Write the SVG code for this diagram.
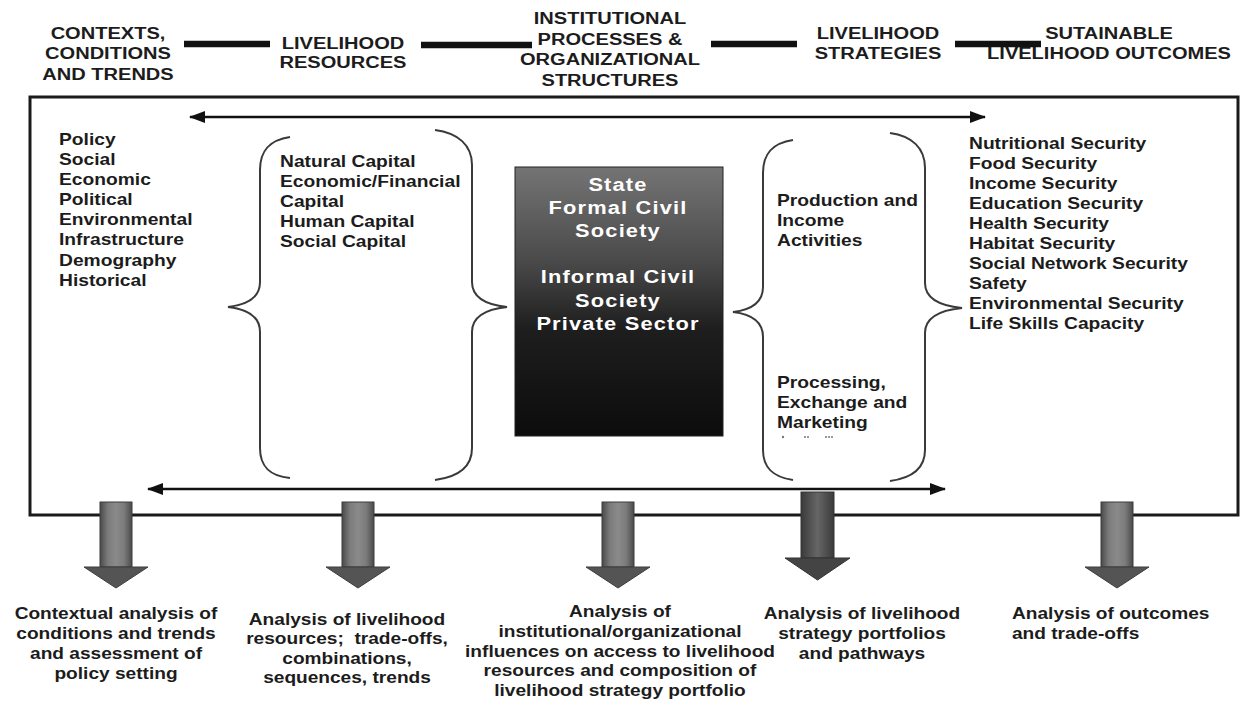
<svg xmlns="http://www.w3.org/2000/svg" width="1250" height="702" viewBox="0 0 1250 702">
<defs>
<style>
.t{font-family:"Liberation Sans",Arial,Helvetica,sans-serif;font-weight:bold;fill:#1c1c1c}
.h{font-size:17px;text-anchor:middle}
.l{font-size:16.3px}
.b{font-size:16.2px;text-anchor:middle}
.bl{font-size:16.2px}
.w{font-size:18.5px;fill:#ffffff;text-anchor:middle;letter-spacing:1px}
.frame{fill:none;stroke:#1a1a1a;stroke-width:3}
.brace{fill:none;stroke:#3a3a3a;stroke-width:2}
.bar{stroke:#111;stroke-width:6.5}
.dbl{stroke:#111;stroke-width:2.5;marker-start:url(#ah);marker-end:url(#ah)}
.shaft{fill:url(#gShaft);stroke:#3c3c3c;stroke-width:1}
.head{fill:#545454;stroke:#3c3c3c;stroke-width:1}
.dot{fill:#777}
</style>
<marker id="ah" viewBox="0 0 16 12" refX="15" refY="6" markerWidth="16" markerHeight="12" orient="auto-start-reverse" markerUnits="userSpaceOnUse">
<path d="M0,0 L16,6 L0,12 z" fill="#111"/>
</marker>
<linearGradient id="gDark" x1="0" y1="0" x2="0" y2="1">
<stop offset="0" stop-color="#747474"/>
<stop offset="0.35" stop-color="#4a4a4a"/>
<stop offset="0.6" stop-color="#1e1e1e"/>
<stop offset="1" stop-color="#0c0c0c"/>
</linearGradient>
<linearGradient id="gShaft" x1="0" y1="0" x2="1" y2="0">
<stop offset="0" stop-color="#4a4a4a"/>
<stop offset="0.25" stop-color="#7c7c7c"/>
<stop offset="0.5" stop-color="#8a8a8a"/>
<stop offset="0.75" stop-color="#7c7c7c"/>
<stop offset="1" stop-color="#4a4a4a"/>
</linearGradient>
<linearGradient id="gShaftDark" x1="0" y1="0" x2="1" y2="0">
<stop offset="0" stop-color="#3a3a3a"/>
<stop offset="0.5" stop-color="#666"/>
<stop offset="1" stop-color="#3a3a3a"/>
</linearGradient>
</defs>
<rect width="1250" height="702" fill="#ffffff"/>

<!-- main frame -->
<rect id="frame" class="frame" x="30" y="97" width="1208" height="418"/>

<!-- header nodes -->
<g id="hdr-contexts"><text class="t h" transform="translate(108,39) scale(1.18,1)"><tspan x="0">CONTEXTS,</tspan><tspan x="0" dy="20.5">CONDITIONS</tspan><tspan x="0" dy="20.5">AND TRENDS</tspan></text></g>
<g id="hdr-resources"><text class="t h" transform="translate(343,49) scale(1.18,1)"><tspan x="0">LIVELIHOOD</tspan><tspan x="0" dy="19.5">RESOURCES</tspan></text></g>
<g id="hdr-institutional"><text class="t h" transform="translate(610,24) scale(1.18,1)"><tspan x="0">INSTITUTIONAL</tspan><tspan x="0" dy="20.7">PROCESSES &amp;</tspan><tspan x="0" dy="20.7">ORGANIZATIONAL</tspan><tspan x="0" dy="20.7">STRUCTURES</tspan></text></g>
<g id="hdr-strategies"><text class="t h" transform="translate(878,39) scale(1.18,1)"><tspan x="0">LIVELIHOOD</tspan><tspan x="0" dy="20">STRATEGIES</tspan></text></g>
<g id="hdr-outcomes"><text class="t h" transform="translate(1109,39) scale(1.18,1)"><tspan x="0">SUTAINABLE</tspan><tspan x="0" dy="20">LIVELIHOOD OUTCOMES</tspan></text></g>

<!-- context list -->
<g id="contexts-list"><text class="t l" transform="translate(59,145) scale(1.18,1)"><tspan x="0">Policy</tspan><tspan x="0" dy="20.1">Social</tspan><tspan x="0" dy="20.1">Economic</tspan><tspan x="0" dy="20.1">Political</tspan><tspan x="0" dy="20.1">Environmental</tspan><tspan x="0" dy="20.1">Infrastructure</tspan><tspan x="0" dy="20.1">Demography</tspan><tspan x="0" dy="20.1">Historical</tspan></text></g>

<!-- resources bracket -->
<g id="resources-list">
<path class="brace" d="M290,137 C270,140 260,150 260,170 L260,282 C260,298 246,305 228,307 C246,309 260,316 260,332 L260,448 C260,467 270,476 290,478"/>
<path class="brace" d="M435,130 C458,133 472,145 472,165 L472,282 C472,298 488,305 507,307 C488,309 472,316 472,332 L472,448 C472,467 458,477 435,480"/>
<text class="t l" transform="translate(280,167) scale(1.18,1)"><tspan x="0">Natural Capital</tspan><tspan x="0" dy="20">Economic/Financial</tspan><tspan x="0" dy="20">Capital</tspan><tspan x="0" dy="20">Human Capital</tspan><tspan x="0" dy="20">Social Capital</tspan></text>
</g>

<!-- institutions box -->
<g id="institutions">
<rect x="515" y="167" width="208" height="269" fill="url(#gDark)" stroke="#222" stroke-width="1"/>
<text class="t w" transform="translate(618,191) scale(1.18,1)"><tspan x="0">State</tspan><tspan x="0" dy="23.5">Formal Civil</tspan><tspan x="0" dy="23">Society</tspan><tspan x="0" dy="46">Informal Civil</tspan><tspan x="0" dy="23.5">Society</tspan><tspan x="0" dy="23">Private Sector</tspan></text>
</g>

<!-- strategies bracket -->
<g id="strategies-list">
<path class="brace" d="M793,140 C773,143 763,153 763,173 L763,287 C763,303 750,310 733,312 C750,314 763,321 763,337 L763,450 C763,468 773,477 793,480"/>
<path class="brace" d="M890,133 C912,136 925,148 925,168 L925,283 C925,299 942,306 962,308 C942,310 925,317 925,333 L925,450 C925,468 912,478 890,481"/>
<text class="t l" transform="translate(777,206) scale(1.18,1)"><tspan x="0">Production and</tspan><tspan x="0" dy="20">Income</tspan><tspan x="0" dy="20">Activities</tspan></text>
<text class="t l" transform="translate(777,388) scale(1.18,1)"><tspan x="0">Processing,</tspan><tspan x="0" dy="20">Exchange and</tspan><tspan x="0" dy="20">Marketing</tspan></text>
<circle class="dot" cx="783" cy="437" r="1.2"/>
<circle class="dot" cx="805" cy="437" r="1"/><circle class="dot" cx="808" cy="437" r="1"/>
<circle class="dot" cx="826" cy="437" r="1"/><circle class="dot" cx="829" cy="437" r="1"/><circle class="dot" cx="832" cy="437" r="1"/>
</g>

<!-- outcomes list -->
<g id="outcomes-list"><text class="t l" transform="translate(969,149) scale(1.18,1)"><tspan x="0">Nutritional Security</tspan><tspan x="0" dy="20">Food Security</tspan><tspan x="0" dy="20">Income Security</tspan><tspan x="0" dy="20">Education Security</tspan><tspan x="0" dy="20">Health Security</tspan><tspan x="0" dy="20">Habitat Security</tspan><tspan x="0" dy="20">Social Network Security</tspan><tspan x="0" dy="20">Safety</tspan><tspan x="0" dy="20">Environmental Security</tspan><tspan x="0" dy="20">Life Skills Capacity</tspan></text></g>

<!-- connectors -->
<g id="connectors">
<line class="bar" x1="184" y1="44" x2="270" y2="44"/>
<line class="bar" x1="421" y1="45" x2="532" y2="45"/>
<line class="bar" x1="711" y1="44" x2="797" y2="44"/>
<line class="bar" x1="955" y1="44" x2="1041" y2="44"/>
<line class="dbl" x1="190" y1="117" x2="985" y2="117"/>
<line class="dbl" x1="148" y1="489" x2="945" y2="489"/>
<g id="down1"><rect class="shaft" x="100" y="502" width="32" height="65"/><polygon class="head" points="84,567 148,567 116,588"/></g>
<g id="down2"><rect class="shaft" x="342" y="502" width="32" height="65"/><polygon class="head" points="326,567 390,567 358,588"/></g>
<g id="down3"><rect class="shaft" x="602" y="502" width="32" height="65"/><polygon class="head" points="586,567 650,567 618,588"/></g>
<g id="down4"><rect x="801" y="492" width="33" height="66" fill="url(#gShaftDark)" stroke="#333" stroke-width="1"/><polygon points="785,558 850,558 817.5,580" fill="#444" stroke="#333" stroke-width="1"/></g>
<g id="down5"><rect class="shaft" x="1101" y="502" width="32" height="65"/><polygon class="head" points="1085,567 1149,567 1117,588"/></g>
</g>

<!-- analysis nodes -->
<g id="an-context"><text class="t b" transform="translate(116,619) scale(1.18,1)"><tspan x="0">Contextual analysis of</tspan><tspan x="0" dy="20">conditions and trends</tspan><tspan x="0" dy="20">and assessment of</tspan><tspan x="0" dy="20">policy setting</tspan></text></g>
<g id="an-resources"><text class="t b" transform="translate(347,625) scale(1.18,1)"><tspan x="0">Analysis of livelihood</tspan><tspan x="0" dy="19.5">resources;&#160; trade-offs,</tspan><tspan x="0" dy="19.5">combinations,</tspan><tspan x="0" dy="19.5">sequences, trends</tspan></text></g>
<g id="an-institutions"><text class="t b" transform="translate(620,617) scale(1.18,1)"><tspan x="0">Analysis of</tspan><tspan x="0" dy="19.8">institutional/organizational</tspan><tspan x="0" dy="19.8">influences on access to livelihood</tspan><tspan x="0" dy="19.8">resources and composition of</tspan><tspan x="0" dy="19.8">livelihood strategy portfolio</tspan></text></g>
<g id="an-strategies"><text class="t b" transform="translate(862,619) scale(1.18,1)"><tspan x="0">Analysis of livelihood</tspan><tspan x="0" dy="20">strategy portfolios</tspan><tspan x="0" dy="20">and pathways</tspan></text></g>
<g id="an-outcomes"><text class="t bl" transform="translate(1012,619) scale(1.18,1)"><tspan x="0">Analysis of outcomes</tspan><tspan x="0" dy="20">and trade-offs</tspan></text></g>
</svg>
